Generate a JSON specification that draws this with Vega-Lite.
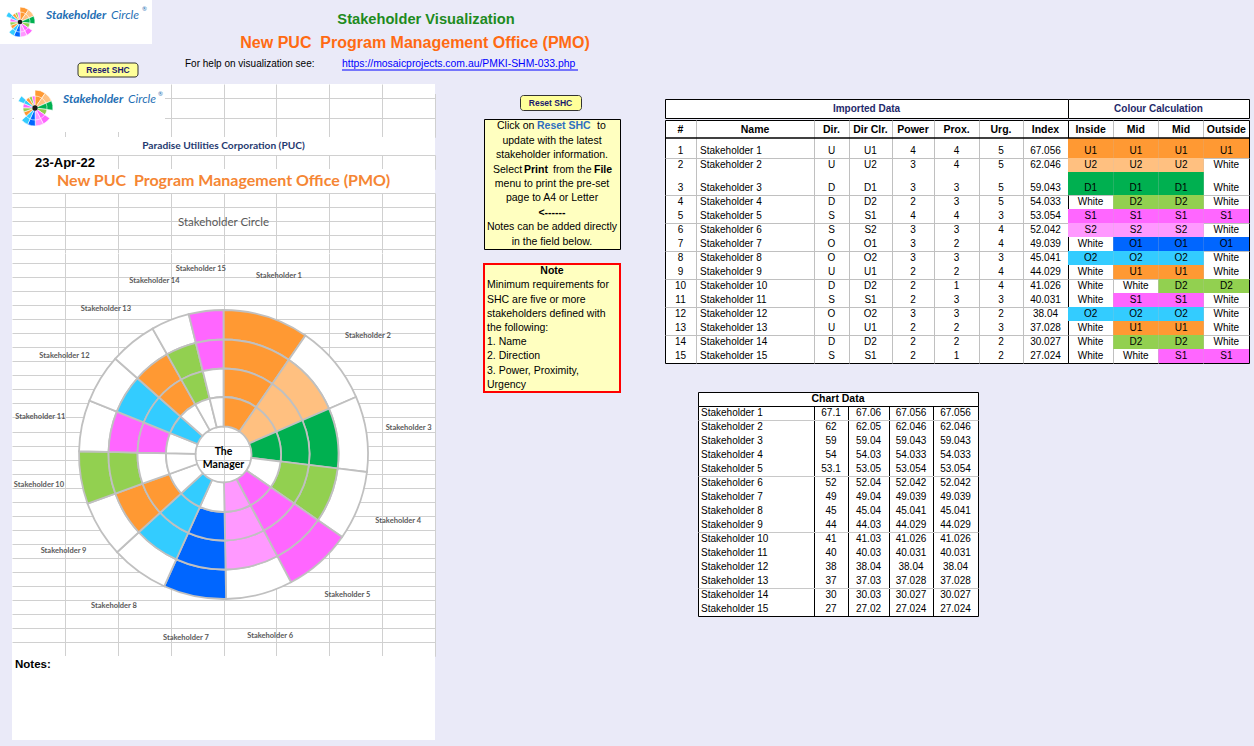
{
"$schema": "https://vega.github.io/schema/vega-lite/v6.json",
"background": "#EAEAF8",
"padding": 0,
"spacing": 0,
"config": {
  "view": {"stroke": null},
  "legend": {"disable": true},
  "axis": {"labels": false, "ticks": false, "domain": false, "grid": true, "gridColor": "#D0D0D0", "gridOpacity": 1, "gridWidth": 1, "minExtent": 0},
  "text": {"font": "Liberation Sans", "fontSize": 10, "color": "#000000"},
  "concat": {"spacing": 0}
},
"datasets": {
  "sh": [
    {"n":1,"name":"Stakeholder 1","dir":"U","dirclr":"U1","power":4,"prox":4,"urg":5,"index":67.056},
    {"n":2,"name":"Stakeholder 2","dir":"U","dirclr":"U2","power":3,"prox":4,"urg":5,"index":62.046},
    {"n":3,"name":"Stakeholder 3","dir":"D","dirclr":"D1","power":3,"prox":3,"urg":5,"index":59.043},
    {"n":4,"name":"Stakeholder 4","dir":"D","dirclr":"D2","power":2,"prox":3,"urg":5,"index":54.033},
    {"n":5,"name":"Stakeholder 5","dir":"S","dirclr":"S1","power":4,"prox":4,"urg":3,"index":53.054},
    {"n":6,"name":"Stakeholder 6","dir":"S","dirclr":"S2","power":3,"prox":3,"urg":4,"index":52.042},
    {"n":7,"name":"Stakeholder 7","dir":"O","dirclr":"O1","power":3,"prox":2,"urg":4,"index":49.039},
    {"n":8,"name":"Stakeholder 8","dir":"O","dirclr":"O2","power":3,"prox":3,"urg":3,"index":45.041},
    {"n":9,"name":"Stakeholder 9","dir":"U","dirclr":"U1","power":2,"prox":2,"urg":4,"index":44.029},
    {"n":10,"name":"Stakeholder 10","dir":"D","dirclr":"D2","power":2,"prox":1,"urg":4,"index":41.026},
    {"n":11,"name":"Stakeholder 11","dir":"S","dirclr":"S1","power":2,"prox":3,"urg":3,"index":40.031},
    {"n":12,"name":"Stakeholder 12","dir":"O","dirclr":"O2","power":3,"prox":3,"urg":2,"index":38.04},
    {"n":13,"name":"Stakeholder 13","dir":"U","dirclr":"U1","power":2,"prox":2,"urg":3,"index":37.028},
    {"n":14,"name":"Stakeholder 14","dir":"D","dirclr":"D2","power":2,"prox":2,"urg":2,"index":30.027},
    {"n":15,"name":"Stakeholder 15","dir":"S","dirclr":"S1","power":2,"prox":1,"urg":2,"index":27.024}
  ],
  "chart": [
    {"n":1,"name":"Stakeholder 1","ring":1,"value":67.1,"clr":"U1"},
    {"n":1,"name":"Stakeholder 1","ring":2,"value":67.06,"clr":"U1"},
    {"n":1,"name":"Stakeholder 1","ring":3,"value":67.056,"clr":"U1"},
    {"n":1,"name":"Stakeholder 1","ring":4,"value":67.056,"clr":"U1"},
    {"n":2,"name":"Stakeholder 2","ring":1,"value":62,"clr":"U2"},
    {"n":2,"name":"Stakeholder 2","ring":2,"value":62.05,"clr":"U2"},
    {"n":2,"name":"Stakeholder 2","ring":3,"value":62.046,"clr":"U2"},
    {"n":2,"name":"Stakeholder 2","ring":4,"value":62.046,"clr":"White"},
    {"n":3,"name":"Stakeholder 3","ring":1,"value":59,"clr":"D1"},
    {"n":3,"name":"Stakeholder 3","ring":2,"value":59.04,"clr":"D1"},
    {"n":3,"name":"Stakeholder 3","ring":3,"value":59.043,"clr":"D1"},
    {"n":3,"name":"Stakeholder 3","ring":4,"value":59.043,"clr":"White"},
    {"n":4,"name":"Stakeholder 4","ring":1,"value":54,"clr":"White"},
    {"n":4,"name":"Stakeholder 4","ring":2,"value":54.03,"clr":"D2"},
    {"n":4,"name":"Stakeholder 4","ring":3,"value":54.033,"clr":"D2"},
    {"n":4,"name":"Stakeholder 4","ring":4,"value":54.033,"clr":"White"},
    {"n":5,"name":"Stakeholder 5","ring":1,"value":53.1,"clr":"S1"},
    {"n":5,"name":"Stakeholder 5","ring":2,"value":53.05,"clr":"S1"},
    {"n":5,"name":"Stakeholder 5","ring":3,"value":53.054,"clr":"S1"},
    {"n":5,"name":"Stakeholder 5","ring":4,"value":53.054,"clr":"S1"},
    {"n":6,"name":"Stakeholder 6","ring":1,"value":52,"clr":"S2"},
    {"n":6,"name":"Stakeholder 6","ring":2,"value":52.04,"clr":"S2"},
    {"n":6,"name":"Stakeholder 6","ring":3,"value":52.042,"clr":"S2"},
    {"n":6,"name":"Stakeholder 6","ring":4,"value":52.042,"clr":"White"},
    {"n":7,"name":"Stakeholder 7","ring":1,"value":49,"clr":"White"},
    {"n":7,"name":"Stakeholder 7","ring":2,"value":49.04,"clr":"O1"},
    {"n":7,"name":"Stakeholder 7","ring":3,"value":49.039,"clr":"O1"},
    {"n":7,"name":"Stakeholder 7","ring":4,"value":49.039,"clr":"O1"},
    {"n":8,"name":"Stakeholder 8","ring":1,"value":45,"clr":"O2"},
    {"n":8,"name":"Stakeholder 8","ring":2,"value":45.04,"clr":"O2"},
    {"n":8,"name":"Stakeholder 8","ring":3,"value":45.041,"clr":"O2"},
    {"n":8,"name":"Stakeholder 8","ring":4,"value":45.041,"clr":"White"},
    {"n":9,"name":"Stakeholder 9","ring":1,"value":44,"clr":"White"},
    {"n":9,"name":"Stakeholder 9","ring":2,"value":44.03,"clr":"U1"},
    {"n":9,"name":"Stakeholder 9","ring":3,"value":44.029,"clr":"U1"},
    {"n":9,"name":"Stakeholder 9","ring":4,"value":44.029,"clr":"White"},
    {"n":10,"name":"Stakeholder 10","ring":1,"value":41,"clr":"White"},
    {"n":10,"name":"Stakeholder 10","ring":2,"value":41.03,"clr":"White"},
    {"n":10,"name":"Stakeholder 10","ring":3,"value":41.026,"clr":"D2"},
    {"n":10,"name":"Stakeholder 10","ring":4,"value":41.026,"clr":"D2"},
    {"n":11,"name":"Stakeholder 11","ring":1,"value":40,"clr":"White"},
    {"n":11,"name":"Stakeholder 11","ring":2,"value":40.03,"clr":"S1"},
    {"n":11,"name":"Stakeholder 11","ring":3,"value":40.031,"clr":"S1"},
    {"n":11,"name":"Stakeholder 11","ring":4,"value":40.031,"clr":"White"},
    {"n":12,"name":"Stakeholder 12","ring":1,"value":38,"clr":"O2"},
    {"n":12,"name":"Stakeholder 12","ring":2,"value":38.04,"clr":"O2"},
    {"n":12,"name":"Stakeholder 12","ring":3,"value":38.04,"clr":"O2"},
    {"n":12,"name":"Stakeholder 12","ring":4,"value":38.04,"clr":"White"},
    {"n":13,"name":"Stakeholder 13","ring":1,"value":37,"clr":"White"},
    {"n":13,"name":"Stakeholder 13","ring":2,"value":37.03,"clr":"U1"},
    {"n":13,"name":"Stakeholder 13","ring":3,"value":37.028,"clr":"U1"},
    {"n":13,"name":"Stakeholder 13","ring":4,"value":37.028,"clr":"White"},
    {"n":14,"name":"Stakeholder 14","ring":1,"value":30,"clr":"White"},
    {"n":14,"name":"Stakeholder 14","ring":2,"value":30.03,"clr":"D2"},
    {"n":14,"name":"Stakeholder 14","ring":3,"value":30.027,"clr":"D2"},
    {"n":14,"name":"Stakeholder 14","ring":4,"value":30.027,"clr":"White"},
    {"n":15,"name":"Stakeholder 15","ring":1,"value":27,"clr":"White"},
    {"n":15,"name":"Stakeholder 15","ring":2,"value":27.02,"clr":"White"},
    {"n":15,"name":"Stakeholder 15","ring":3,"value":27.024,"clr":"S1"},
    {"n":15,"name":"Stakeholder 15","ring":4,"value":27.024,"clr":"S1"}
  ],
  "cols": [
    {"key":"n","label":"#","idx":0},
    {"key":"name","label":"Name","idx":1},
    {"key":"dir","label":"Dir.","idx":2},
    {"key":"dirclr","label":"Dir Clr.","idx":3},
    {"key":"power","label":"Power","idx":4},
    {"key":"prox","label":"Prox.","idx":5},
    {"key":"urg","label":"Urg.","idx":6},
    {"key":"index","label":"Index","idx":7}
  ],
  "rings": [
    {"ring":1,"label":"Inside"},
    {"ring":2,"label":"Mid"},
    {"ring":3,"label":"Mid"},
    {"ring":4,"label":"Outside"}
  ],
  "note1": [
    {"line":1,"part":"a1","t":"Click on"},
    {"line":1,"part":"b1","t":"Reset SHC"},
    {"line":1,"part":"c1","t":"to"},
    {"line":2,"part":"m","t":"update with the latest"},
    {"line":3,"part":"m","t":"stakeholder information."},
    {"line":4,"part":"a4","t":"Select"},
    {"line":4,"part":"b4","t":"Print"},
    {"line":4,"part":"c4","t":"from the"},
    {"line":4,"part":"d4","t":"File"},
    {"line":5,"part":"m","t":"menu to print the pre-set"},
    {"line":6,"part":"m","t":"page to A4 or Letter"},
    {"line":7,"part":"k","t":"<------"},
    {"line":8,"part":"m","t":"Notes can be added directly"},
    {"line":9,"part":"m","t":"in the field below."}
  ],
  "note2": [
    {"line":1,"t":"Note"},
    {"line":2,"t":"Minimum requirements for"},
    {"line":3,"t":"SHC are five or more"},
    {"line":4,"t":"stakeholders defined with"},
    {"line":5,"t":"the following:"},
    {"line":6,"t":"1. Name"},
    {"line":7,"t":"2. Direction"},
    {"line":8,"t":"3. Power, Proximity,"},
    {"line":9,"t":"Urgency"}
  ]
},
"vconcat": [
  {
    "width": 1254, "height": 84, "view": {"fill": "#EAEAF8"},
    "data": {"values": [{}]},
    "layer": [
      {"mark": {"type": "rect", "fill": "#FFFFFF"}, "encoding": {"x": {"value": 0}, "x2": {"value": 152}, "y": {"value": 0}, "y2": {"value": 44}}},
      {"data": {"name": "sh"}, "mark": {"type": "arc", "radius": 15, "stroke": "#FFFFFF", "strokeWidth": 0.6},
       "encoding": {"x": {"value": 20}, "y": {"value": 22},
         "theta": {"field": "index", "type": "quantitative", "stack": "normalize"},
         "color": {"field": "dirclr", "type": "nominal", "scale": {"domain": ["U1","U2","D1","D2","S1","S2","O1","O2","White"], "range": ["#FF9933","#FFC080","#00B050","#92D050","#FF66FF","#FF99FF","#0066FF","#33CCFF","#FFFFFF"]}, "legend": null},
         "opacity": {"condition": {"test": "datum.power < 3", "value": 0}, "value": 1},
         "order": {"field": "n", "type": "quantitative"}}},
      {"data": {"name": "sh"}, "mark": {"type": "arc", "radius": 10, "stroke": "#FFFFFF", "strokeWidth": 0.6},
       "encoding": {"x": {"value": 20}, "y": {"value": 22},
         "theta": {"field": "index", "type": "quantitative", "stack": "normalize"},
         "color": {"field": "dirclr", "type": "nominal", "scale": {"domain": ["U1","U2","D1","D2","S1","S2","O1","O2","White"], "range": ["#FF9933","#FFC080","#00B050","#92D050","#FF66FF","#FF99FF","#0066FF","#33CCFF","#FFFFFF"]}, "legend": null},
         "order": {"field": "n", "type": "quantitative"}}},
      {"mark": {"type": "point", "filled": true, "color": "#1A1A1A", "size": 22, "opacity": 1}, "encoding": {"x": {"value": 20}, "y": {"value": 22}}},
      {"mark": {"type": "text", "text": "Stakeholder", "font": "Lato", "fontStyle": "italic", "fontWeight": "bold", "fontSize": 12, "color": "#1F6FB4", "align": "left"}, "encoding": {"x": {"value": 46}, "y": {"value": 15}}},
      {"mark": {"type": "text", "text": "Circle", "font": "Lato", "fontStyle": "italic", "fontSize": 12, "color": "#1F6FB4", "align": "left"}, "encoding": {"x": {"value": 111}, "y": {"value": 15}}},
      {"mark": {"type": "text", "text": "\u00ae", "font": "Lato", "fontSize": 6, "color": "#1F6FB4", "align": "left"}, "encoding": {"x": {"value": 142}, "y": {"value": 9}}},
      {"mark": {"type": "text", "text": "Stakeholder Visualization", "fontWeight": "bold", "fontSize": 14.67, "color": "#1E8B1E"}, "encoding": {"x": {"value": 426}, "y": {"value": 20}}},
      {"mark": {"type": "text", "text": "New PUC\u00a0 Program Management Office (PMO)", "fontWeight": "bold", "fontSize": 16, "color": "#FF6A13"}, "encoding": {"x": {"value": 415}, "y": {"value": 43}}},
      {"mark": {"type": "text", "text": "For help on visualization see:", "fontSize": 10, "align": "left"}, "encoding": {"x": {"value": 185}, "y": {"value": 64}}},
      {"mark": {"type": "text", "text": "https://mosaicprojects.com.au/PMKI-SHM-033.php", "fontSize": 10.4, "color": "#0000FF", "align": "left"}, "encoding": {"x": {"value": 342}, "y": {"value": 64}}},
      {"mark": {"type": "rule", "color": "#0000FF", "strokeWidth": 1}, "encoding": {"x": {"value": 342}, "x2": {"value": 578}, "y": {"value": 70}}},
      {"mark": {"type": "rect", "fill": "#FFFF99", "stroke": "#333333", "strokeWidth": 1, "cornerRadius": 3}, "encoding": {"x": {"value": 78}, "x2": {"value": 138}, "y": {"value": 63}, "y2": {"value": 77}}},
      {"mark": {"type": "text", "text": "Reset SHC", "fontWeight": "bold", "fontSize": 8.5, "color": "#1A1A6E"}, "encoding": {"x": {"value": 108}, "y": {"value": 70}}}
    ]
  },
  {
    "spacing": 0,
    "hconcat": [
      {"width": 12, "height": 662, "view": {"fill": "#EAEAF8"}, "data": {"values": []}, "mark": "point"},
      {
        "spacing": 0, "bounds": "flush",
        "vconcat": [
          {
            "width": 423, "height": 53, "view": {"fill": "#FFFFFF"},
            "data": {"values": [{}]},
            "layer": [
              {"mark": {"type": "point", "opacity": 0, "size": 0}, "encoding": {
                "x": {"datum": 4, "type": "quantitative", "scale": {"domain": [0, 8], "nice": false, "zero": false}, "axis": {"values": [1,2,3,4,5,6,7,8], "title": null}},
                "y": {"datum": 1.5, "type": "quantitative", "scale": {"domain": [0, 1, 2, 3], "range": [0, 14, 34, 53], "nice": false, "zero": false}, "axis": {"values": [1,2,3], "title": null}}}},
              {"mark": {"type": "rect", "fill": "#FFFFFF"}, "encoding": {"x": {"value": 2}, "x2": {"value": 153}, "y": {"value": 0}, "y2": {"value": 48}}},
              {"data": {"name": "sh"}, "mark": {"type": "arc", "radius": 18, "stroke": "#FFFFFF", "strokeWidth": 0.6},
               "encoding": {"x": {"value": 23}, "y": {"value": 24},
                 "theta": {"field": "index", "type": "quantitative", "stack": "normalize"},
                 "color": {"field": "dirclr", "type": "nominal", "scale": {"domain": ["U1","U2","D1","D2","S1","S2","O1","O2","White"], "range": ["#FF9933","#FFC080","#00B050","#92D050","#FF66FF","#FF99FF","#0066FF","#33CCFF","#FFFFFF"]}, "legend": null},
                 "opacity": {"condition": {"test": "datum.power < 3", "value": 0}, "value": 1},
                 "order": {"field": "n", "type": "quantitative"}}},
              {"data": {"name": "sh"}, "mark": {"type": "arc", "radius": 12, "stroke": "#FFFFFF", "strokeWidth": 0.6},
               "encoding": {"x": {"value": 23}, "y": {"value": 24},
                 "theta": {"field": "index", "type": "quantitative", "stack": "normalize"},
                 "color": {"field": "dirclr", "type": "nominal", "scale": {"domain": ["U1","U2","D1","D2","S1","S2","O1","O2","White"], "range": ["#FF9933","#FFC080","#00B050","#92D050","#FF66FF","#FF99FF","#0066FF","#33CCFF","#FFFFFF"]}, "legend": null},
                 "order": {"field": "n", "type": "quantitative"}}},
              {"mark": {"type": "point", "filled": true, "color": "#1A1A1A", "size": 28, "opacity": 1}, "encoding": {"x": {"value": 23}, "y": {"value": 24}}},
              {"mark": {"type": "text", "text": "Stakeholder", "font": "Lato", "fontStyle": "italic", "fontWeight": "bold", "fontSize": 12, "color": "#1F6FB4", "align": "left"}, "encoding": {"x": {"value": 51}, "y": {"value": 15}}},
              {"mark": {"type": "text", "text": "Circle", "font": "Lato", "fontStyle": "italic", "fontSize": 12, "color": "#1F6FB4", "align": "left"}, "encoding": {"x": {"value": 116}, "y": {"value": 15}}},
              {"mark": {"type": "text", "text": "\u00ae", "font": "Lato", "fontSize": 6, "color": "#1F6FB4", "align": "left"}, "encoding": {"x": {"value": 146}, "y": {"value": 10}}}
            ]
          },
          {
            "width": 423, "height": 18, "view": {"fill": "#FFFFFF"},
            "data": {"values": [{}]},
            "mark": {"type": "text", "text": "Paradise Utilities Corporation (PUC)", "font": "Lato", "fontWeight": "bold", "fontSize": 10.2, "color": "#1F3A70"},
            "encoding": {}
          },
          {
            "width": 423, "height": 14, "view": {"fill": "#FFFFFF"},
            "data": {"values": [{}]},
            "layer": [
              {"mark": {"type": "point", "opacity": 0, "size": 0}, "encoding": {
                "x": {"datum": 4, "type": "quantitative", "scale": {"domain": [0, 8], "nice": false, "zero": false}, "axis": {"values": [2,3,4,5,6,7,8], "title": null}},
                "y": {"datum": 0.5, "type": "quantitative", "scale": {"domain": [0, 1], "nice": false, "zero": false}, "axis": {"values": [0, 1], "title": null}}}},
              {"mark": {"type": "text", "text": "23-Apr-22", "fontWeight": "bold", "fontSize": 13, "align": "left"}, "encoding": {"x": {"value": 23}, "y": {"value": 7.5}}}
            ]
          },
          {
            "width": 423, "height": 24, "view": {"fill": "#FFFFFF"},
            "data": {"values": [{}]},
            "mark": {"type": "text", "text": "New PUC\u00a0 Program Management Office (PMO)", "font": "Lato", "fontWeight": "bold", "fontSize": 16, "color": "#F58634"},
            "encoding": {}
          },
          {
            "width": 423, "height": 60, "view": {"fill": "#FFFFFF"},
            "data": {"values": [{}]},
            "layer": [
              {"mark": {"type": "point", "opacity": 0, "size": 0}, "encoding": {
                "x": {"datum": 4, "type": "quantitative", "scale": {"domain": [0, 8], "nice": false, "zero": false}, "axis": {"values": [1,2,3,4,5,6,7,8], "title": null}},
                "y": {"datum": 2, "type": "quantitative", "scale": {"domain": [0, 4.2764], "reverse": true, "nice": false, "zero": false}, "axis": {"values": [0,1,2,3,4], "title": null}}}},
              {"mark": {"type": "text", "text": "Stakeholder Circle", "font": "Lato", "fontSize": 11.5, "color": "#595959"}, "encoding": {}}
            ]
          },
          {
            "width": 423, "height": 403, "view": {"fill": "#FFFFFF"},
            "layer": [
              {"data": {"values": [{}]}, "mark": {"type": "point", "opacity": 0, "size": 0}, "encoding": {
                "x": {"datum": 4, "type": "quantitative", "scale": {"domain": [0, 8], "nice": false, "zero": false}, "axis": {"values": [1,2,3,4,5,6,7,8], "title": null}},
                "y": {"datum": 18, "type": "quantitative", "scale": {"domain": [4.2764, 33], "reverse": true, "nice": false, "zero": false}, "axis": {"values": [5,6,7,8,9,10,11,12,13,14,15,16,17,18,19,20,21,22,23,24,25,26,27,28,29,30,31,32,33], "title": null}}}},
              {"data": {"name": "chart"}, "transform": [{"filter": "datum.ring == 4"}],
               "mark": {"type": "arc", "radius": 144.5, "radius2": 115, "stroke": "#C0C0C0", "strokeWidth": 1.8},
               "encoding": {"theta": {"field": "value", "type": "quantitative", "stack": "normalize"},
                 "color": {"field": "clr", "type": "nominal", "scale": {"domain": ["U1","U2","D1","D2","S1","S2","O1","O2","White"], "range": ["#FF9933","#FFC080","#00B050","#92D050","#FF66FF","#FF99FF","#0066FF","#33CCFF","#FFFFFF"]}, "legend": null},
                 "order": {"field": "n", "type": "quantitative"}}},
              {"data": {"name": "chart"}, "transform": [{"filter": "datum.ring == 3"}],
               "mark": {"type": "arc", "radius": 115, "radius2": 86, "stroke": "#C0C0C0", "strokeWidth": 1.8},
               "encoding": {"theta": {"field": "value", "type": "quantitative", "stack": "normalize"},
                 "color": {"field": "clr", "type": "nominal", "scale": {"domain": ["U1","U2","D1","D2","S1","S2","O1","O2","White"], "range": ["#FF9933","#FFC080","#00B050","#92D050","#FF66FF","#FF99FF","#0066FF","#33CCFF","#FFFFFF"]}, "legend": null},
                 "order": {"field": "n", "type": "quantitative"}}},
              {"data": {"name": "chart"}, "transform": [{"filter": "datum.ring == 2"}],
               "mark": {"type": "arc", "radius": 86, "radius2": 57.5, "stroke": "#C0C0C0", "strokeWidth": 1.8},
               "encoding": {"theta": {"field": "value", "type": "quantitative", "stack": "normalize"},
                 "color": {"field": "clr", "type": "nominal", "scale": {"domain": ["U1","U2","D1","D2","S1","S2","O1","O2","White"], "range": ["#FF9933","#FFC080","#00B050","#92D050","#FF66FF","#FF99FF","#0066FF","#33CCFF","#FFFFFF"]}, "legend": null},
                 "order": {"field": "n", "type": "quantitative"}}},
              {"data": {"name": "chart"}, "transform": [{"filter": "datum.ring == 1"}],
               "mark": {"type": "arc", "radius": 57.5, "radius2": 28, "stroke": "#C0C0C0", "strokeWidth": 1.8},
               "encoding": {"theta": {"field": "value", "type": "quantitative", "stack": "normalize"},
                 "color": {"field": "clr", "type": "nominal", "scale": {"domain": ["U1","U2","D1","D2","S1","S2","O1","O2","White"], "range": ["#FF9933","#FFC080","#00B050","#92D050","#FF66FF","#FF99FF","#0066FF","#33CCFF","#FFFFFF"]}, "legend": null},
                 "order": {"field": "n", "type": "quantitative"}}},
              {"data": {"name": "chart"}, "transform": [{"filter": "datum.ring == 4"}],
               "mark": {"type": "text", "radius": 187, "font": "Lato", "fontSize": 7.5, "fontWeight": "bold", "color": "#595959"},
               "encoding": {"theta": {"field": "value", "type": "quantitative", "stack": "normalize"},
                 "order": {"field": "n", "type": "quantitative"},
                 "text": {"field": "name", "type": "nominal"}}},
              {"data": {"values": [{}]}, "mark": {"type": "text", "text": ["The", "Manager"], "font": "Lato", "fontWeight": "bold", "fontSize": 10.5, "lineHeight": 13, "color": "#000000", "dy": -3}, "encoding": {}}
            ]
          },
          {
            "width": 423, "height": 84, "view": {"fill": "#FFFFFF"},
            "data": {"values": [{}]},
            "mark": {"type": "text", "text": "Notes:", "fontWeight": "bold", "fontSize": 11.5, "align": "left", "baseline": "top"},
            "encoding": {"x": {"value": 3}, "y": {"value": 3}}
          }
        ]
      },
      {"width": 48, "height": 10, "view": {"fill": "#EAEAF8"}, "data": {"values": []}, "mark": "point"},
      {
        "spacing": 0,
        "vconcat": [
          {"width": 136, "height": 10, "view": {"fill": "#EAEAF8"}, "data": {"values": []}, "mark": "point"},
          {
            "spacing": 0, "bounds": "flush",
            "hconcat": [
              {"width": 36, "height": 15, "view": {"fill": "#EAEAF8"}, "data": {"values": []}, "mark": "point"},
              {"width": 61, "height": 15, "view": {"fill": "#FFFF99", "stroke": "#333333", "cornerRadius": 3},
               "data": {"values": [{}]},
               "mark": {"type": "text", "text": "Reset SHC", "fontWeight": "bold", "fontSize": 8.5, "color": "#1A1A6E"},
               "encoding": {}}
            ]
          },
          {"width": 136, "height": 7, "view": {"fill": "#EAEAF8"}, "data": {"values": []}, "mark": "point"},
          {
            "width": 136, "height": 130, "view": {"fill": "#FFFFC0", "stroke": "#000000"},
            "data": {"name": "note1"},
            "encoding": {"y": {"field": "line", "type": "ordinal", "scale": {"paddingInner": 0, "paddingOuter": 0.15}, "axis": null}},
            "layer": [
              {"transform": [{"filter": "datum.part == 'm'"}], "mark": {"type": "text", "fontSize": 10.5}, "encoding": {"text": {"field": "t", "type": "nominal"}}},
              {"transform": [{"filter": "datum.part == 'k'"}], "mark": {"type": "text", "fontSize": 10.5, "fontWeight": "bold"}, "encoding": {"text": {"field": "t", "type": "nominal"}}},
              {"transform": [{"filter": "datum.part == 'a1'"}], "mark": {"type": "text", "fontSize": 10.5, "align": "left"}, "encoding": {"x": {"value": 13}, "text": {"field": "t", "type": "nominal"}}},
              {"transform": [{"filter": "datum.part == 'b1'"}], "mark": {"type": "text", "fontSize": 10.5, "align": "left", "fontWeight": "bold", "color": "#2F6FC0"}, "encoding": {"x": {"value": 53}, "text": {"field": "t", "type": "nominal"}}},
              {"transform": [{"filter": "datum.part == 'c1'"}], "mark": {"type": "text", "fontSize": 10.5, "align": "left"}, "encoding": {"x": {"value": 113}, "text": {"field": "t", "type": "nominal"}}},
              {"transform": [{"filter": "datum.part == 'a4'"}], "mark": {"type": "text", "fontSize": 10.5, "align": "left"}, "encoding": {"x": {"value": 9}, "text": {"field": "t", "type": "nominal"}}},
              {"transform": [{"filter": "datum.part == 'b4'"}], "mark": {"type": "text", "fontSize": 10.5, "align": "left", "fontWeight": "bold"}, "encoding": {"x": {"value": 40}, "text": {"field": "t", "type": "nominal"}}},
              {"transform": [{"filter": "datum.part == 'c4'"}], "mark": {"type": "text", "fontSize": 10.5, "align": "left"}, "encoding": {"x": {"value": 69}, "text": {"field": "t", "type": "nominal"}}},
              {"transform": [{"filter": "datum.part == 'd4'"}], "mark": {"type": "text", "fontSize": 10.5, "align": "left", "fontWeight": "bold"}, "encoding": {"x": {"value": 110}, "text": {"field": "t", "type": "nominal"}}}
            ]
          },
          {"width": 136, "height": 13, "view": {"fill": "#EAEAF8"}, "data": {"values": []}, "mark": "point"},
          {
            "width": 136, "height": 128, "view": {"fill": "#FFFFC0", "stroke": "#FF0000", "strokeWidth": 2},
            "data": {"name": "note2"},
            "encoding": {"y": {"field": "line", "type": "ordinal", "scale": {"paddingInner": 0, "paddingOuter": 0.07}, "axis": null}},
            "layer": [
              {"transform": [{"filter": "datum.line == 1"}], "mark": {"type": "text", "fontSize": 10.5, "fontWeight": "bold"}, "encoding": {"text": {"field": "t", "type": "nominal"}}},
              {"transform": [{"filter": "datum.line > 1"}], "mark": {"type": "text", "fontSize": 10.5, "align": "left"}, "encoding": {"x": {"value": 3}, "text": {"field": "t", "type": "nominal"}}}
            ]
          }
        ]
      },
      {"width": 42, "height": 10, "view": {"fill": "#EAEAF8"}, "data": {"values": []}, "mark": "point"},
      {
        "spacing": 0,
        "vconcat": [
          {"width": 584, "height": 14, "view": {"fill": "#EAEAF8"}, "data": {"values": []}, "mark": "point"},
          {
            "spacing": 0, "bounds": "flush",
            "hconcat": [
              {"width": 403, "height": 19, "view": {"fill": "#FFFFFF", "stroke": "#000000"}, "data": {"values": [{}]},
               "mark": {"type": "text", "text": "Imported Data", "fontWeight": "bold", "fontSize": 10, "color": "#1F2A6B"}, "encoding": {}},
              {"width": 181, "height": 19, "view": {"fill": "#FFFFFF", "stroke": "#000000"}, "data": {"values": [{}]},
               "mark": {"type": "text", "text": "Colour Calculation", "fontWeight": "bold", "fontSize": 10, "color": "#1F2A6B"}, "encoding": {}}
            ]
          },
          {
            "spacing": 0, "bounds": "flush",
            "hconcat": [
              {
                "width": 403, "height": 243, "view": {"fill": "#FFFFFF", "stroke": "#000000"},
                "data": {"name": "sh"},
                "layer": [
                  {"transform": [
                     {"fold": ["n","name","dir","dirclr","power","prox","urg","index"], "as": ["key","val"]},
                     {"filter": "datum.key != 'name'"},
                     {"lookup": "key", "from": {"data": {"name": "cols"}, "key": "key", "fields": ["idx"]}}],
                   "mark": {"type": "text", "baseline": "bottom", "dy": -2},
                   "encoding": {
                     "x": {"field": "idx", "type": "quantitative", "scale": {"domain": [-0.5,0.5,1.5,2.5,3.5,4.5,5.5,6.5,7.5], "range": [0,31,149,184,227,269,314,358,403], "nice": false, "zero": false}, "axis": {"values": [0.5,1.5,2.5,3.5,4.5,5.5,6.5], "title": null, "gridColor": "#C0C0C0"}},
                     "y": {"field": "n", "type": "quantitative", "scale": {"domain": [-1,0,1,2,3,15], "range": [0,18,38,52,75,243], "nice": false, "zero": false}, "axis": {"values": [1,2,3,4,5,6,7,8,9,10,11,12,13,14], "title": null, "gridColor": "#C0C0C0"}},
                     "text": {"field": "val", "type": "nominal"}}},
                  {"mark": {"type": "text", "align": "left", "baseline": "bottom", "dy": -2, "dx": -55},
                   "encoding": {
                     "x": {"datum": 1, "type": "quantitative"},
                     "y": {"field": "n", "type": "quantitative"},
                     "text": {"field": "name", "type": "nominal"}}},
                  {"data": {"name": "cols"}, "mark": {"type": "text", "fontWeight": "bold", "fontSize": 10.5, "baseline": "bottom", "dy": -3},
                   "encoding": {
                     "x": {"field": "idx", "type": "quantitative"},
                     "y": {"datum": 0, "type": "quantitative"},
                     "text": {"field": "label", "type": "nominal"}}},
                  {"data": {"values": [{}]}, "mark": {"type": "rule", "color": "#000000", "strokeWidth": 1.5},
                   "encoding": {"y": {"datum": 0, "type": "quantitative"}}}
                ]
              },
              {
                "width": 181, "height": 243, "view": {"fill": "#FFFFFF", "stroke": "#000000"},
                "layer": [
                  {"data": {"name": "chart"}, "mark": {"type": "bar"},
                   "encoding": {
                     "x": {"field": "ring", "type": "ordinal", "scale": {"paddingInner": 0, "paddingOuter": 0}, "axis": {"values": [2,3,4], "bandPosition": 0, "title": null, "gridColor": "#C0C0C0"}},
                     "y": {"aggregate": "count", "type": "quantitative", "stack": "zero", "scale": {"domain": [-1,0,1,2,3,15], "range": [0,18,38,52,75,243], "nice": false, "zero": false}, "axis": {"values": [1,2,3,4,5,6,7,8,9,10,11,12,13,14], "title": null, "gridColor": "#C0C0C0"}},
                     "color": {"field": "clr", "type": "nominal", "scale": {"domain": ["U1","U2","D1","D2","S1","S2","O1","O2","White"], "range": ["#FF9933","#FFC080","#00B050","#92D050","#FF66FF","#FF99FF","#0066FF","#33CCFF","#FFFFFF"]}, "legend": null},
                     "opacity": {"condition": {"test": "datum.clr == 'White'", "value": 0}, "value": 1},
                     "detail": {"field": "n", "type": "quantitative"},
                     "order": {"field": "n", "type": "quantitative", "sort": "ascending"}}},
                  {"data": {"name": "chart"}, "mark": {"type": "text", "baseline": "bottom", "dy": -2},
                   "encoding": {
                     "x": {"field": "ring", "type": "ordinal"},
                     "y": {"field": "n", "type": "quantitative"},
                     "text": {"field": "clr", "type": "nominal"}}},
                  {"data": {"name": "rings"}, "mark": {"type": "text", "fontWeight": "bold", "fontSize": 10.5, "baseline": "bottom", "dy": -3},
                   "encoding": {
                     "x": {"field": "ring", "type": "ordinal"},
                     "y": {"datum": 0, "type": "quantitative"},
                     "text": {"field": "label", "type": "nominal"}}},
                  {"data": {"values": [{}]}, "mark": {"type": "rule", "color": "#000000", "strokeWidth": 1.5},
                   "encoding": {"y": {"datum": 0, "type": "quantitative"}}}
                ]
              }
            ]
          },
          {"width": 584, "height": 27, "view": {"fill": "#EAEAF8"}, "data": {"values": []}, "mark": "point"},
          {
            "spacing": 0,
            "hconcat": [
              {"width": 32, "height": 224, "view": {"fill": "#EAEAF8"}, "data": {"values": []}, "mark": "point"},
              {
                "spacing": 0, "bounds": "flush",
                "vconcat": [
                  {"width": 280, "height": 14, "view": {"fill": "#FFFFFF", "stroke": "#000000"}, "data": {"values": [{}]},
                   "mark": {"type": "text", "text": "Chart Data", "fontWeight": "bold", "fontSize": 10.5}, "encoding": {}},
                  {
                    "width": 280, "height": 210, "view": {"fill": "#FFFFFF", "stroke": "#000000"},
                    "layer": [
                      {"data": {"name": "chart"}, "mark": {"type": "text"},
                       "encoding": {
                         "x": {"field": "ring", "type": "quantitative", "scale": {"domain": [-0.5,0.5,1.5,2.5,3.5,4.5], "range": [0,116,150,191,235,280], "nice": false, "zero": false}, "axis": {"values": [0.5,1.5,2.5,3.5], "title": null, "gridColor": "#000000"}},
                         "y": {"field": "n", "type": "quantitative", "scale": {"domain": [0.5, 15.5], "range": [0, 210], "nice": false, "zero": false}, "axis": {"values": [1.5,2.5,3.5,4.5,5.5,6.5,7.5,8.5,9.5,10.5,11.5,12.5,13.5,14.5], "title": null, "gridColor": "#C8C8C8"}},
                         "text": {"field": "value", "type": "nominal"}}},
                      {"data": {"name": "sh"}, "mark": {"type": "text", "align": "left", "dx": 3},
                       "encoding": {
                         "x": {"datum": -0.5, "type": "quantitative"},
                         "y": {"field": "n", "type": "quantitative"},
                         "text": {"field": "name", "type": "nominal"}}}
                    ]
                  }
                ]
              }
            ]
          }
        ]
      }
    ]
  }
]
}
